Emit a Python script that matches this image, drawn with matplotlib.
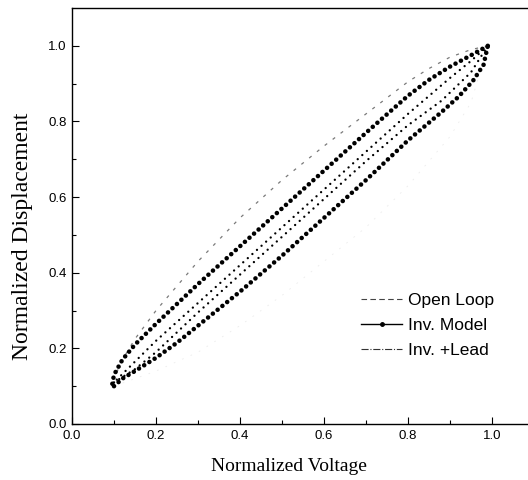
import numpy as np
import matplotlib.pyplot as plt
from matplotlib.lines import Line2D

# Inv. Model loop (big dots)
inv_up_x = [0.10, 0.12, 0.15, 0.20, 0.25, 0.30, 0.40, 0.50, 0.60, 0.70, 0.80, 0.88, 0.92, 0.955, 0.98, 0.99]
inv_up_y = [0.10, 0.12, 0.14, 0.175, 0.215, 0.26, 0.35, 0.445, 0.545, 0.645, 0.75, 0.825, 0.865, 0.908, 0.95, 1.00]
inv_dn_x = [0.99, 0.95, 0.90, 0.85, 0.80, 0.70, 0.60, 0.50, 0.40, 0.30, 0.20, 0.15, 0.12, 0.10, 0.095]
inv_dn_y = [1.00, 0.975, 0.945, 0.91, 0.868, 0.77, 0.67, 0.57, 0.47, 0.37, 0.265, 0.21, 0.17, 0.13, 0.10]

# Inv. +Lead loop (small dots)
lead_up_x = [0.10, 0.15, 0.20, 0.30, 0.40, 0.50, 0.60, 0.70, 0.80, 0.88, 0.95, 0.99]
lead_up_y = [0.11, 0.145, 0.19, 0.295, 0.395, 0.495, 0.595, 0.695, 0.79, 0.855, 0.93, 1.00]
lead_dn_x = [0.99, 0.95, 0.90, 0.80, 0.70, 0.60, 0.50, 0.40, 0.30, 0.20, 0.15, 0.10]
lead_dn_y = [1.00, 0.96, 0.915, 0.82, 0.72, 0.62, 0.52, 0.42, 0.32, 0.22, 0.165, 0.11]

# Open Loop (faint)
ol_dn_x = [0.99, 0.95, 0.90, 0.85, 0.80, 0.70, 0.60, 0.50, 0.40, 0.30, 0.20, 0.15, 0.12, 0.10]
ol_dn_y = [1.00, 0.99, 0.97, 0.94, 0.905, 0.82, 0.735, 0.645, 0.545, 0.43, 0.30, 0.225, 0.17, 0.12]
ol_up_x = [0.10, 0.15, 0.20, 0.30, 0.40, 0.50, 0.60, 0.70, 0.80, 0.90, 0.95, 0.99]
ol_up_y = [0.10, 0.12, 0.14, 0.19, 0.26, 0.34, 0.43, 0.52, 0.63, 0.76, 0.85, 1.00]

labels = ['Open Loop', 'Inv. Model', 'Inv. +Lead']

fig = plt.figure(figsize=(5.28, 4.8), dpi=100)
ax = fig.add_axes([72/528, 56/480, 462/528, 416/480])

# open loop - faint grey dashes
ax.plot(ol_dn_x, ol_dn_y, color='#7a7a7a', lw=0.9, linestyle=(0, (2.5, 5.5)))
ax.plot(ol_up_x, ol_up_y, color='#ececec', lw=0.6, linestyle=(0, (2, 9)))

# inverse model - big dots
for xs, ys in [(inv_up_x, inv_up_y), (inv_dn_x, inv_dn_y)]:
    ax.plot(xs, ys, color='black', lw=3.3, linestyle=(0, (0.01, 1.33)),
            dash_capstyle='round', solid_capstyle='round')

# inverse + lead - small dots
for xs, ys in [(lead_up_x, lead_up_y), (lead_dn_x, lead_dn_y)]:
    ax.plot(xs, ys, color='black', lw=1.7, linestyle=(0, (0.01, 2.6)),
            dash_capstyle='round')

ax.set_xlim(0, 1.1)
ax.set_ylim(0, 1.1)
ax.set_xticks(np.arange(0, 1.01, 0.2))
ax.set_yticks(np.arange(0, 1.01, 0.2))
ax.set_xticks(np.arange(0.1, 1.1, 0.2), minor=True)
ax.set_yticks(np.arange(0.1, 1.1, 0.2), minor=True)
ax.set_xticklabels(['%.1f' % v for v in np.arange(0, 1.01, 0.2)])
ax.set_yticklabels(['%.1f' % v for v in np.arange(0, 1.01, 0.2)])
ax.tick_params(which='both', direction='in', labelsize=9.5, pad=4, width=0.8)
ax.tick_params(which='major', length=5)
ax.tick_params(which='minor', length=3)
for lab in ax.get_xticklabels() + ax.get_yticklabels():
    lab.set_family('Liberation Sans')
for s in ax.spines.values():
    s.set_linewidth(1.0)

ax.set_xlabel('Normalized Voltage', family='Liberation Serif', fontsize=14)
ax.set_ylabel('Normalized Displacement', family='Liberation Serif', fontsize=17)
ax.xaxis.set_label_coords(0.47, -0.082)
ax.yaxis.set_label_coords(-0.084, 0.45)

handles = [
    Line2D([], [], color='#444444', lw=0.8, linestyle=(0, (5, 3))),
    Line2D([], [], color='black', lw=1.0, marker='o', markersize=2.5),
    Line2D([], [], color='#333333', lw=0.8, linestyle='-.'),
]
leg = ax.legend(handles, labels, loc='upper left', bbox_to_anchor=(0.591, 0.352),
                frameon=False, handlelength=2.4, handletextpad=0.35,
                labelspacing=0.55, numpoints=1,
                prop={'family': 'Liberation Sans', 'size': 12.5})

fig.savefig('out.png', dpi=100)
